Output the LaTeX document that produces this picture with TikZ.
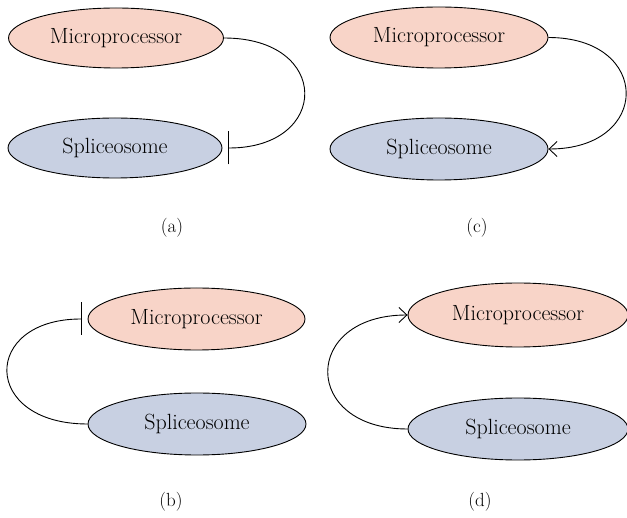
\documentclass[tikz,border=0pt]{standalone}
\usetikzlibrary{shapes.geometric,arrows.meta}
\definecolor{micropink}{RGB}{248,212,200}
\definecolor{spliceblue}{RGB}{200,208,226}
\tikzset{
  blob/.style={ellipse, draw=black, line width=0.9pt, inner sep=0pt, font=\fontsize{22}{26}\selectfont},
  micro/.style={blob, fill=micropink},
  splice/.style={blob, fill=spliceblue},
  panel/.style={font=\fontsize{19}{22}\selectfont},
  link/.style={draw=black, line width=0.9pt},
  inhibit/.style={link, -{Bar[width=33pt,line width=0.9pt]}, shorten >=6pt},
  activate/.style={link, -{Straight Barb[length=8pt,width=15pt,line width=0.9pt]}}
}
\begin{document}
\begin{tikzpicture}[x=1pt,y=-1pt]
\useasboundingbox (0,0) rectangle (627,518);
% (a)
\node[micro, minimum width=215pt, minimum height=60pt] (ma) at (116,38) {Microprocessor};
\node[splice, minimum width=214pt, minimum height=60pt] (sa) at (115,148) {Spliceosome};
\draw[inhibit] (ma.east) to[out=0,in=0,looseness=2.5] (sa.east);
\node[panel] (la) at (172,228) {(a)};
% (c)
\node[micro, minimum width=218pt, minimum height=61pt] (mc) at (439,37.5) {Microprocessor};
\node[splice, minimum width=218pt, minimum height=62pt] (sc) at (439,149) {Spliceosome};
\draw[activate] (mc.east) to[out=0,in=0,looseness=2.38] (sc.east);
\node[panel] (lc) at (477,228) {(c)};
% (b)
\node[micro, minimum width=217pt, minimum height=62pt] (mb) at (196.5,319) {Microprocessor};
\node[splice, minimum width=218pt, minimum height=62pt] (sb) at (197,424) {Spliceosome};
\draw[inhibit] (sb.west) to[out=180,in=180,looseness=2.6] (mb.west);
\node[panel] (lb) at (171,502) {(b)};
% (d)
\node[micro, minimum width=220pt, minimum height=64pt] (md) at (518,315) {Microprocessor};
\node[splice, minimum width=220pt, minimum height=62pt] (sd) at (518,429) {Spliceosome};
\draw[activate] (sd.west) to[out=180,in=180,looseness=2.39] (md.west);
\node[panel] (ld) at (480,502) {(d)};
\end{tikzpicture}
\end{document}
